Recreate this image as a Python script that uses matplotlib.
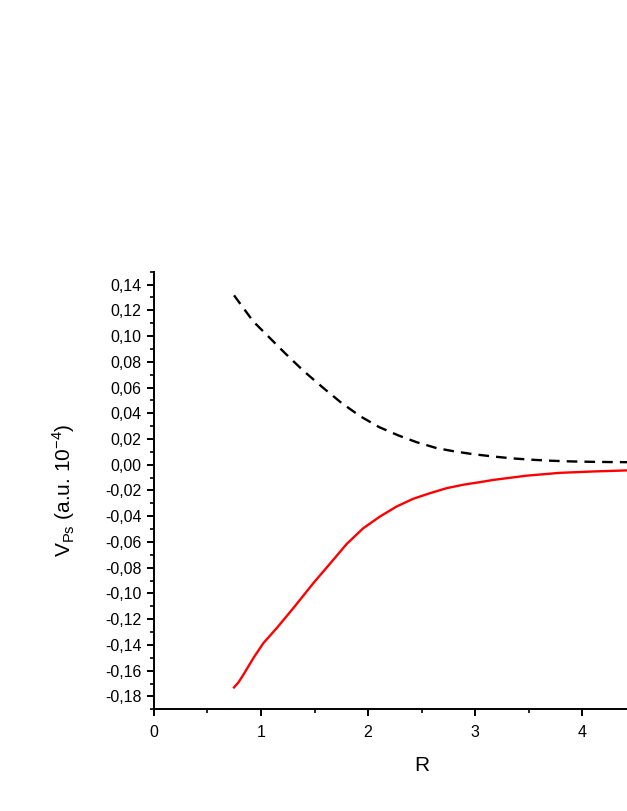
import matplotlib
matplotlib.use("Agg")
import matplotlib.pyplot as plt
from matplotlib.ticker import MultipleLocator, FixedLocator, FuncFormatter

plt.rcParams['font.family'] = ['Liberation Sans', 'DejaVu Sans']
plt.rcParams['axes.unicode_minus'] = False

# dashed black curve
r_dash = [0.748, 0.928, 1.068, 1.224, 1.396, 1.576, 1.754, 1.931, 2.105, 2.283,
          2.455, 2.642, 2.813, 2.984, 3.17, 3.357, 3.53, 3.716, 3.89, 4.07, 4.26, 4.42, 4.6]
v_dash = [0.1316, 0.1113, 0.0997, 0.0867, 0.0730, 0.0601, 0.0479, 0.0375, 0.0292, 0.0228,
          0.0175, 0.0129, 0.0103, 0.0082, 0.0064, 0.0049, 0.0039, 0.0031, 0.0026, 0.0023, 0.0021, 0.0020, 0.0018]

# solid red curve
r_red = [0.748, 0.790, 0.835, 0.928, 1.022, 1.146, 1.302, 1.489, 1.676, 1.801, 1.956,
         2.112, 2.268, 2.424, 2.579, 2.735, 2.891, 3.047, 3.17, 3.48, 3.79, 4.11, 4.42, 4.6]
v_red = [-0.1730, -0.1690, -0.1632, -0.1503, -0.1386, -0.1270, -0.1114, -0.0920, -0.0738, -0.0615, -0.0493,
         -0.0402, -0.0324, -0.0264, -0.0221, -0.0182, -0.0155, -0.0135, -0.0118, -0.0085, -0.0063, -0.0052, -0.0044, -0.0040]

x_major = [0, 1, 2, 3, 4]
x_minor = [0.5, 1.5, 2.5, 3.5, 4.5]

fig = plt.figure(figsize=(6.27, 8.11), dpi=100)
ax = fig.add_axes([0.2456, 0.1254, 0.8534, 0.5396])

ax.plot(r_dash, v_dash, color='black', lw=1.7, linestyle=(0, (4.5, 3)))
ax.plot(r_red, v_red, color='red', lw=1.7)

ax.set_xlim(0, 5)
ax.set_ylim(-0.19, 0.15)

ax.spines['top'].set_visible(False)
ax.spines['right'].set_visible(False)
ax.spines['left'].set_linewidth(1.4)
ax.spines['bottom'].set_linewidth(1.4)

ax.xaxis.set_major_locator(FixedLocator(x_major))
ax.xaxis.set_minor_locator(FixedLocator(x_minor))
ax.yaxis.set_major_locator(MultipleLocator(0.02))
ax.yaxis.set_minor_locator(MultipleLocator(0.01))
ax.yaxis.set_major_formatter(FuncFormatter(lambda v, p: f"{v:.2f}".replace('.', ',').replace('-0,00', '0,00')))
ax.xaxis.set_major_formatter(FuncFormatter(lambda v, p: f"{int(round(v))}"))

ax.tick_params(which='major', direction='out', length=5, width=1.4, labelsize=11.5, pad=4)
ax.tick_params(axis='x', which='major', pad=6)
ax.tick_params(which='minor', direction='out', length=3, width=1.2)

ax.set_xlabel('R', fontsize=15, labelpad=12)
ax.set_ylabel(r'V$_{\mathregular{Ps}}$ (a.u. 10$^{\mathregular{-4}}$)', fontsize=15, labelpad=20)

fig.savefig('out.png', dpi=100)
